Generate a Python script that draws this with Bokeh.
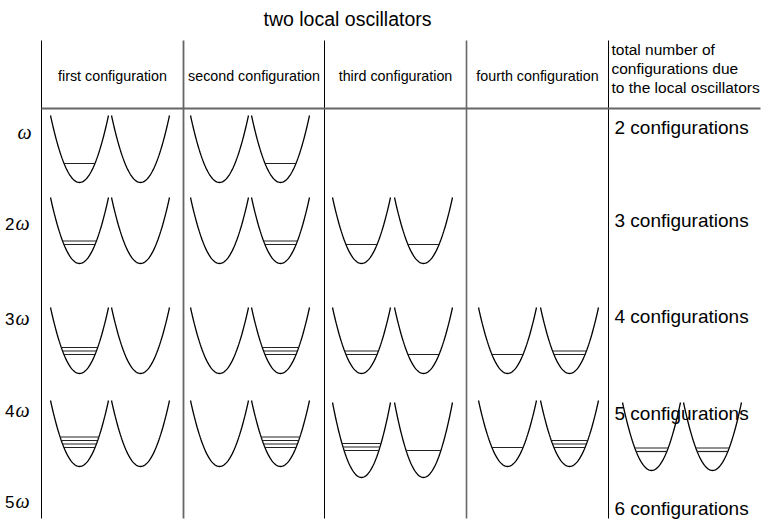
import numpy as np
from bokeh.plotting import figure
from bokeh.models import Range1d
from bokeh.core.properties import value
from bokeh.embed import file_html
from bokeh.resources import INLINE

# ---------------- data ----------------
title_text = "two local oscillators"
col_headers = ["first configuration", "second configuration",
               "third configuration", "fourth configuration"]
total_header = ["total number of", "configurations due", "to the local oscillators"]
row_multipliers = ["", "2", "3", "4", "5"]          # energy k*omega
total_counts = [2, 3, 4, 5, 6]
total_labels = [f"{n} configurations" for n in total_counts]
# quanta in (left oscillator, right oscillator) for each configuration, per row
configs = [
    [(1, 0), (0, 1)],
    [(2, 0), (0, 2), (1, 1)],
    [(3, 0), (0, 3), (2, 1), (1, 2)],
    [(4, 0), (0, 4), (3, 1), (1, 3), (2, 2)],
    [],
]

# ---------------- layout (pixel space of the page) ----------------
W, H = 763, 521
col_edges = [41, 183, 324, 466, 608]
col_line_style = [("black", 1.0), ("#666666", 1.8), ("black", 1.0), ("#666666", 1.6), ("black", 1.0)]
vline_top, vline_bottom = 40, 518
header_line_y, header_line_x1 = 108, 760
left_centers = [79, 219, 361, 507, 651]
right_centers = [140, 280, 423, 569, 712]
half_w = 29
row_label_y = [132, 223, 318, 410, 501]
total_label_y = [127, 220, 316, 413, 508]
row_top = [115, 197, 307, 400, 0]
row_bot = [182, 263, 373, 466, 0]
cell_override = {(3, 2): (402, 477, 27), (3, 4): (402, 470, 19)}
level_base, level_step = 19, 3.5

p = figure(width=W, height=H, x_range=Range1d(0, W), y_range=Range1d(H, 0),
           output_backend="svg", toolbar_location=None, min_border=0,
           background_fill_color="white", border_fill_color="white")
p.axis.visible = False
p.grid.visible = False
p.outline_line_color = None

# table lines
for xe, (c, w) in zip(col_edges, col_line_style):
    p.segment(x0=[xe], y0=[vline_top], x1=[xe], y1=[vline_bottom], line_color=c, line_width=w)
p.segment(x0=[col_edges[0]], y0=[header_line_y], x1=[header_line_x1], y1=[header_line_y],
          line_color="#666666", line_width=1.8)

# parabolas and levels
pxs, pys = [], []
lx0, lx1, ly = [], [], []
for r, row in enumerate(configs):
    for ci, (nl, nr) in enumerate(row):
        top, bot, base = cell_override.get((r, ci), (row_top[r], row_bot[r], level_base))
        depth = bot - top
        for cx, n in ((left_centers[ci], nl), (right_centers[ci], nr)):
            t = np.linspace(-1, 1, 61)
            pxs.append(list(cx + half_w * t))
            pys.append(list(bot - depth * t ** 2))
            for k in range(n):
                h = base + level_step * k
                hw = half_w * np.sqrt(h / depth)
                lx0.append(cx - hw); lx1.append(cx + hw); ly.append(bot - h)
p.multi_line(xs=pxs, ys=pys, line_color="black", line_width=1.3)
p.segment(x0=lx0, y0=ly, x1=lx1, y1=ly, line_color="#222222", line_width=1.2)

font = value("Liberation Sans")
# title
p.text(x=[347], y=[18], text=[title_text], text_font=font, text_font_size="19.5px",
       text_align="center", text_baseline="middle", text_color="black")
# column headers
hx = [(col_edges[i] + col_edges[i + 1]) / 2 for i in range(4)]
p.text(x=hx, y=[75] * 4, text=col_headers, text_font=font, text_font_size="14.3px",
       text_align="center", text_baseline="middle", text_color="black")
p.text(x=[611] * 3, y=[49, 68, 87], text=total_header, text_font=font, text_font_size="15.5px",
       text_align="left", text_baseline="middle", text_color="black")
# right labels
p.text(x=[614] * 5, y=total_label_y, text=total_labels, text_font=font, text_font_size="19px",
       text_align="left", text_baseline="middle", text_color="black")
# row labels k*omega
nums = [m for m in row_multipliers if m]
nums_y = [y for m, y in zip(row_multipliers, row_label_y) if m]
p.text(x=[14] * len(nums), y=nums_y, text=nums, text_font=font, text_font_size="17px",
       text_align="right", text_baseline="middle", text_color="black")
om_x = [15 if m else 17 for m in row_multipliers]
p.text(x=om_x, y=[y - 1 for y in row_label_y], text=["ω"] * 5, text_font=value("Liberation Serif"),
       text_font_style="italic", text_font_size="20px",
       text_align="left", text_baseline="middle", text_color="black")

open("out.html", "w").write(file_html(p, INLINE))
